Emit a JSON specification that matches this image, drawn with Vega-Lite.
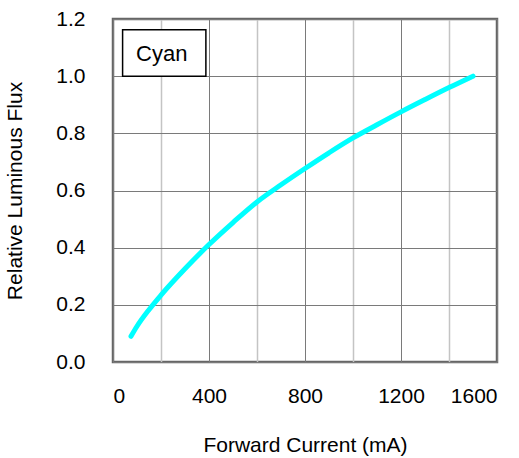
{
  "$schema": "https://vega.github.io/schema/vega-lite/v6.json",
  "autosize": "none",
  "width": 384,
  "height": 343,
  "padding": {"left": 113, "top": 19, "right": 22, "bottom": 96},
  "background": "white",
  "layer": [
    {
      "data": {
        "values": [
          {"current": 75, "flux": 0.09},
          {"current": 100, "flux": 0.125},
          {"current": 150, "flux": 0.183},
          {"current": 200, "flux": 0.234},
          {"current": 300, "flux": 0.326},
          {"current": 400, "flux": 0.411},
          {"current": 500, "flux": 0.488},
          {"current": 600, "flux": 0.56},
          {"current": 700, "flux": 0.62},
          {"current": 800, "flux": 0.677},
          {"current": 900, "flux": 0.732},
          {"current": 1000, "flux": 0.784},
          {"current": 1100, "flux": 0.83},
          {"current": 1200, "flux": 0.875},
          {"current": 1300, "flux": 0.918},
          {"current": 1400, "flux": 0.96},
          {"current": 1500, "flux": 1.0}
        ]
      },
      "mark": {"type": "line", "interpolate": "monotone", "color": "#00ffff", "strokeWidth": 5, "strokeCap": "round", "strokeJoin": "round"},
      "encoding": {
        "x": {
          "field": "current",
          "type": "quantitative",
          "title": "Forward Current (mA)",
          "scale": {"domain": [0, 1600], "nice": false, "zero": false},
          "axis": {
            "values": [0, 200, 400, 600, 800, 1000, 1200, 1400, 1600],
            "labelExpr": "datum.value % 400 === 0 ? datum.label : ''",
            "format": "d",
            "gridColor": {"condition": {"test": "datum.value % 400 === 0", "value": "#7a7a7a"}, "value": "#c4c4c4"},
            "gridWidth": {"condition": {"test": "datum.value % 400 === 0", "value": 1}, "value": 1.5},
            "labelPadding": 23,
            "titlePadding": 28
          }
        },
        "y": {
          "field": "flux",
          "type": "quantitative",
          "title": "Relative Luminous Flux",
          "scale": {"domain": [0, 1.2], "nice": false},
          "axis": {
            "values": [0, 0.1, 0.2, 0.3, 0.4, 0.5, 0.6, 0.7, 0.8, 0.9, 1.0, 1.1, 1.2],
            "labelExpr": "round(datum.value * 10) % 2 === 0 ? format(datum.value, '.1f') : ''",
            "gridColor": {"condition": {"test": "round(datum.value * 10) % 2 === 0", "value": "#7a7a7a"}, "value": "#c4c4c4"},
            "gridWidth": {"condition": {"test": "round(datum.value * 10) % 2 === 0", "value": 1}, "value": 1.5},
            "labelPadding": 28,
            "titlePadding": 30
          }
        }
      }
    },
    {
      "data": {"values": [{"series": "Cyan"}]},
      "layer": [
        {
          "mark": {"type": "rect", "fill": "white", "stroke": "black", "strokeWidth": 1.5},
          "encoding": {
            "x": {"datum": 40, "type": "quantitative"},
            "x2": {"datum": 387},
            "y": {"datum": 1.0, "type": "quantitative"},
            "y2": {"datum": 1.162}
          }
        },
        {
          "mark": {"type": "text", "align": "left", "baseline": "middle", "fontSize": 22, "font": "Liberation Sans", "color": "black"},
          "encoding": {
            "text": {"field": "series"},
            "x": {"datum": 96, "type": "quantitative"},
            "y": {"datum": 1.078, "type": "quantitative"}
          }
        }
      ]
    }
  ],
  "config": {
    "font": "Liberation Sans",
    "view": {"stroke": "#666666", "strokeWidth": 2.5},
    "axis": {
      "domain": false,
      "ticks": false,
      "labelFont": "Liberation Sans",
      "titleFont": "Liberation Sans",
      "labelFontSize": 21,
      "titleFontSize": 21,
      "titleFontWeight": "normal",
      "labelColor": "black",
      "titleColor": "black",
      "gridOpacity": 1
    }
  }
}
